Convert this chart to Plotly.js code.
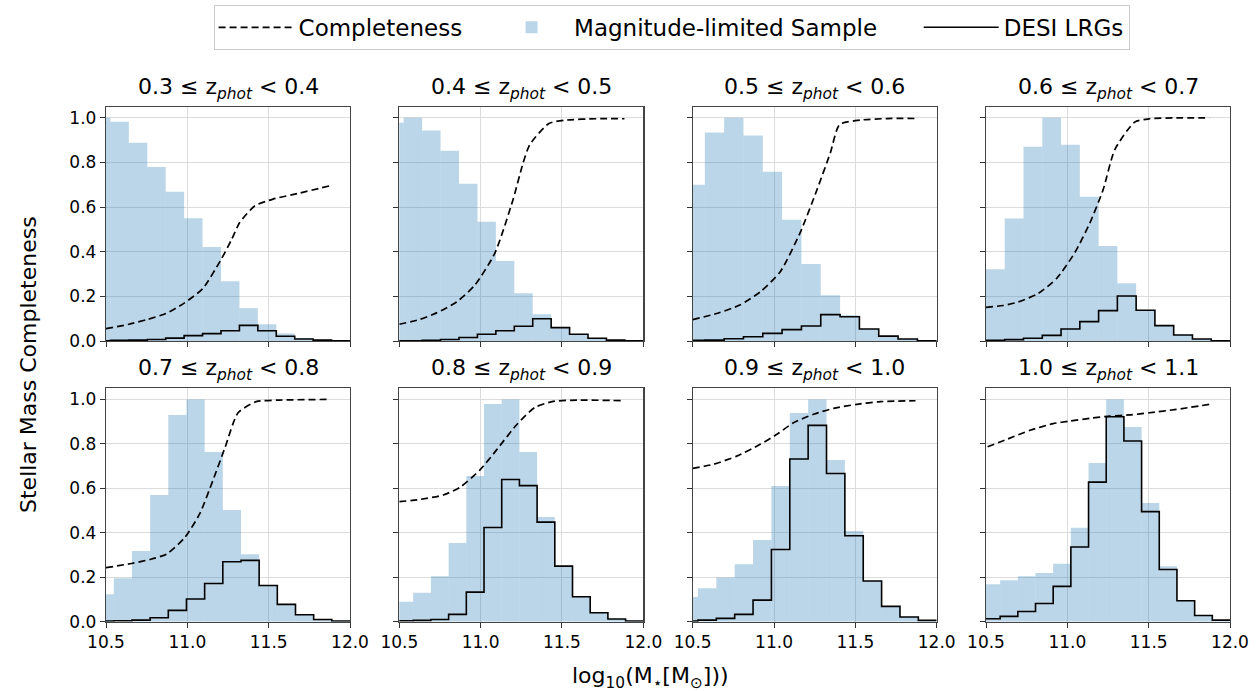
<!DOCTYPE html>
<html>
<head>
<meta charset="utf-8">
<script src="https://cdn.plot.ly/plotly-3.0.1.min.js"></script>
<style>html,body{margin:0;padding:0;background:#fff;}#chart{width:1260px;height:691px;}</style>
</head>
<body>
<div id="chart"></div>
<script>
// ---------- data ----------
const zLow  = [0.3, 0.4, 0.5, 0.6, 0.7, 0.8, 0.9, 1.0];
const zHigh = [0.4, 0.5, 0.6, 0.7, 0.8, 0.9, 1.0, 1.1];

const xTickVals = [10.5, 11.0, 11.5, 12.0];
const xTickText = ['10.5', '11.0', '11.5', '12.0'];
const yTickVals = [0, 0.2, 0.4, 0.6, 0.8, 1.0];
const yTickText = ['0.0', '0.2', '0.4', '0.6', '0.8', '1.0'];

// histogram bins: equal width, last edge at 12.0
const binEnd = 12.0;
const binWidth = [0.1133, 0.1133, 0.1188, 0.1154, 0.1117, 0.1088, 0.1129, 0.1087];

// Magnitude-limited sample (normalised histogram heights)
const magLim1 = [1.0, 0.982, 0.889, 0.780, 0.669, 0.550, 0.421, 0.268, 0.147, 0.075, 0.034, 0.012, 0.006, 0.001];
const magLim2 = [0.978, 1.0, 0.943, 0.853, 0.705, 0.534, 0.358, 0.214, 0.120, 0.060, 0.028, 0.010, 0.004, 0.001];
const magLim3 = [0.700, 0.934, 1.0, 0.921, 0.759, 0.543, 0.345, 0.205, 0.115, 0.054, 0.022, 0.009, 0.001];
const magLim4 = [0.321, 0.549, 0.871, 1.0, 0.880, 0.646, 0.426, 0.259, 0.138, 0.069, 0.027, 0.009, 0.001];
const magLim5 = [0.124, 0.196, 0.318, 0.570, 0.930, 1.0, 0.763, 0.502, 0.304, 0.163, 0.078, 0.031, 0.010, 0.003];
const magLim6 = [0.090, 0.130, 0.205, 0.354, 0.655, 0.979, 1.0, 0.763, 0.471, 0.250, 0.112, 0.040, 0.012, 0.003];
const magLim7 = [0.111, 0.151, 0.199, 0.259, 0.367, 0.610, 0.939, 1.0, 0.727, 0.408, 0.183, 0.069, 0.021, 0.006];
const magLim8 = [0.169, 0.187, 0.205, 0.219, 0.261, 0.423, 0.714, 1.0, 0.876, 0.534, 0.250, 0.094, 0.028, 0.007];

// DESI LRGs (step histogram heights)
const lrg1 = [0.001, 0.003, 0.004, 0.007, 0.013, 0.024, 0.033, 0.046, 0.070, 0.046, 0.021, 0.009, 0.004, 0.001];
const lrg2 = [0.001, 0.001, 0.003, 0.007, 0.016, 0.030, 0.046, 0.066, 0.100, 0.060, 0.030, 0.012, 0.004, 0.001];
const lrg3 = [0.003, 0.004, 0.010, 0.019, 0.034, 0.051, 0.067, 0.118, 0.109, 0.054, 0.022, 0.009, 0.001];
const lrg4 = [0.003, 0.006, 0.012, 0.025, 0.054, 0.087, 0.136, 0.202, 0.138, 0.069, 0.027, 0.009, 0.001];
const lrg5 = [0.003, 0.004, 0.007, 0.018, 0.051, 0.102, 0.172, 0.270, 0.276, 0.163, 0.078, 0.031, 0.010, 0.003];
const lrg6 = [0.004, 0.006, 0.010, 0.033, 0.133, 0.424, 0.640, 0.612, 0.448, 0.250, 0.112, 0.040, 0.012, 0.003];
const lrg7 = [0.003, 0.007, 0.015, 0.033, 0.097, 0.325, 0.732, 0.883, 0.667, 0.387, 0.183, 0.069, 0.021, 0.006];
const lrg8 = [0.013, 0.024, 0.046, 0.082, 0.159, 0.336, 0.628, 0.922, 0.813, 0.495, 0.235, 0.094, 0.028, 0.007];

// Completeness curves
const compX1 = [10.5, 10.641, 10.756, 10.868, 10.983, 11.095, 11.208, 11.271, 11.322, 11.416, 11.527, 11.690, 11.880];
const compY1 = [0.055, 0.075, 0.097, 0.123, 0.171, 0.235, 0.366, 0.453, 0.531, 0.606, 0.636, 0.663, 0.696];
const compX2 = [10.5, 10.627, 10.729, 10.852, 10.964, 11.087, 11.199, 11.261, 11.302, 11.420, 11.527, 11.711, 11.884];
const compY2 = [0.075, 0.097, 0.126, 0.175, 0.250, 0.393, 0.633, 0.798, 0.880, 0.975, 0.990, 0.996, 0.996];
const compX3 = [10.5, 10.648, 10.792, 10.915, 11.038, 11.161, 11.264, 11.346, 11.403, 11.531, 11.695, 11.880];
const compY3 = [0.096, 0.123, 0.162, 0.220, 0.310, 0.486, 0.678, 0.843, 0.970, 0.990, 0.997, 0.997];
const compX4 = [10.5, 10.606, 10.698, 10.821, 10.934, 11.046, 11.138, 11.220, 11.292, 11.414, 11.506, 11.670, 11.874];
const compY4 = [0.151, 0.159, 0.175, 0.213, 0.280, 0.396, 0.528, 0.678, 0.858, 0.981, 0.996, 1.0, 1.0];
const compX5 = [10.5, 10.657, 10.770, 10.872, 10.985, 11.077, 11.158, 11.230, 11.312, 11.424, 11.567, 11.874];
const compY5 = [0.243, 0.262, 0.280, 0.304, 0.379, 0.487, 0.637, 0.780, 0.940, 0.990, 0.997, 1.0];
const compX6 = [10.5, 10.627, 10.770, 10.872, 10.995, 11.097, 11.220, 11.333, 11.446, 11.609, 11.884];
const compY6 = [0.540, 0.550, 0.570, 0.604, 0.682, 0.772, 0.885, 0.964, 0.991, 0.997, 0.994];
const compX7 = [10.5, 10.627, 10.771, 10.915, 11.018, 11.120, 11.243, 11.366, 11.510, 11.654, 11.870];
const compY7 = [0.690, 0.708, 0.745, 0.798, 0.843, 0.895, 0.933, 0.960, 0.978, 0.990, 0.994];
const compX8 = [10.51, 10.627, 10.770, 10.913, 11.016, 11.139, 11.261, 11.384, 11.506, 11.670, 11.884];
const compY8 = [0.787, 0.820, 0.861, 0.891, 0.903, 0.915, 0.925, 0.930, 0.940, 0.955, 0.979];

const magLim = [magLim1, magLim2, magLim3, magLim4, magLim5, magLim6, magLim7, magLim8];
const lrg = [lrg1, lrg2, lrg3, lrg4, lrg5, lrg6, lrg7, lrg8];
const compX = [compX1, compX2, compX3, compX4, compX5, compX6, compX7, compX8];
const compY = [compY1, compY2, compY3, compY4, compY5, compY6, compY7, compY8];

// ---------- layout geometry ----------
const W = 1260, H = 691;
const colPx = [[106, 350], [399.3, 643.3], [692.7, 936.7], [986, 1230]];
const rowPx = [[106.7, 341], [388.3, 621.7]];
const FONT = 'DejaVu Sans, Liberation Sans, sans-serif';
const NB = '\u00a0';

const traces = [];
const layout = {
  width: W, height: H,
  margin: {l: 0, r: 0, t: 0, b: 0},
  paper_bgcolor: '#ffffff', plot_bgcolor: '#ffffff',
  font: {family: FONT, color: '#000', size: 17},
  barmode: 'overlay',
  showlegend: true,
  legend: {
    orientation: 'h', x: 0.533, xanchor: 'center', y: 0.993, yanchor: 'top',
    bordercolor: '#cccccc', borderwidth: 1, bgcolor: '#ffffff',
    font: {family: FONT, size: 23, color: '#000'},
    itemwidth: 75
  },
  annotations: [], shapes: []
};

for (let i = 0; i < 8; i++) {
  const n = i + 1;
  const sfx = n === 1 ? '' : String(n);
  const row = i < 4 ? 0 : 1, col = i % 4;
  const w = binWidth[i];
  const vals = magLim[i];
  const nb = vals.length;
  const left = vals.map((_, k) => binEnd - (nb - k) * w);
  const centers = left.map(e => e + w / 2);

  traces.push({
    type: 'bar', x: centers, y: vals, width: w,
    xaxis: 'x' + sfx, yaxis: 'y' + sfx,
    marker: {color: 'rgba(31,119,180,0.3)', line: {width: 0}},
    name: 'Magnitude-limited Sample' + NB.repeat(5), legendgroup: 'mag', legendrank: 2,
    showlegend: i === 0, hoverinfo: 'skip'
  });

  const lv = lrg[i];
  const stepX = left.concat([binEnd]);
  const stepY = lv.concat([lv[lv.length - 1]]);
  traces.push({
    type: 'scatter', mode: 'lines', x: stepX, y: stepY,
    xaxis: 'x' + sfx, yaxis: 'y' + sfx,
    line: {color: '#000', width: 1.6, shape: 'hv'},
    name: 'DESI LRGs', legendgroup: 'lrg', legendrank: 3,
    showlegend: i === 0, hoverinfo: 'skip'
  });

  traces.push({
    type: 'scatter', mode: 'lines', x: compX[i], y: compY[i],
    xaxis: 'x' + sfx, yaxis: 'y' + sfx,
    line: {color: '#000', width: 1.7, dash: '7px,4px', shape: 'spline', smoothing: 0.6},
    name: 'Completeness' + NB.repeat(3), legendgroup: 'comp', legendrank: 1,
    showlegend: i === 0, hoverinfo: 'skip'
  });

  const xd = [colPx[col][0] / W, colPx[col][1] / W];
  const yd = [1 - rowPx[row][1] / H, 1 - rowPx[row][0] / H];

  layout['xaxis' + sfx] = {
    domain: xd, anchor: 'y' + sfx, range: [10.5, 12.0],
    tickmode: 'array', tickvals: xTickVals, ticktext: xTickText,
    showticklabels: row === 1,
    ticks: 'outside', ticklen: 5, tickwidth: 1, tickcolor: '#333',
    tickfont: {family: FONT, size: 17, color: '#000'},
    showgrid: true, gridcolor: '#dcdcdc', gridwidth: 1,
    showline: true, mirror: true, linecolor: '#444', linewidth: 1.2,
    zeroline: false, fixedrange: true, automargin: false
  };
  layout['yaxis' + sfx] = {
    domain: yd, anchor: 'x' + sfx, range: [0, 1.05],
    tickmode: 'array', tickvals: yTickVals, ticktext: yTickText,
    showticklabels: col === 0,
    ticks: 'outside', ticklen: 5, tickwidth: 1, tickcolor: '#333',
    tickfont: {family: FONT, size: 17, color: '#000'},
    showgrid: true, gridcolor: '#dcdcdc', gridwidth: 1,
    showline: true, mirror: true, linecolor: '#444', linewidth: 1.2,
    zeroline: false, fixedrange: true, automargin: false
  };

  layout.annotations.push({
    xref: 'paper', yref: 'paper',
    x: (xd[0] + xd[1]) / 2, y: yd[1], xanchor: 'center', yanchor: 'bottom', yshift: 2,
    text: zLow[i].toFixed(1) + ' ≤ z<sub><i>phot</i></sub> &lt; ' + zHigh[i].toFixed(1),
    showarrow: false, font: {family: FONT, size: 22, color: '#000'}
  });
}

// axis titles
layout.annotations.push({
  xref: 'paper', yref: 'paper', x: 650 / W, y: 1 - 677 / H,
  xanchor: 'center', yanchor: 'middle', showarrow: false,
  text: 'log<sub>10</sub>(M<sub>⋆</sub>[M<sub>⊙</sub>]))',
  font: {family: FONT, size: 22, color: '#000'}
});
layout.annotations.push({
  xref: 'paper', yref: 'paper', x: 28 / W, y: 1 - 365 / H,
  xanchor: 'center', yanchor: 'middle', showarrow: false, textangle: -90,
  text: 'Stellar Mass Completeness',
  font: {family: FONT, size: 22, color: '#000'}
});

Plotly.newPlot('chart', traces, layout, {staticPlot: true, displayModeBar: false});
</script>
</body>
</html>
